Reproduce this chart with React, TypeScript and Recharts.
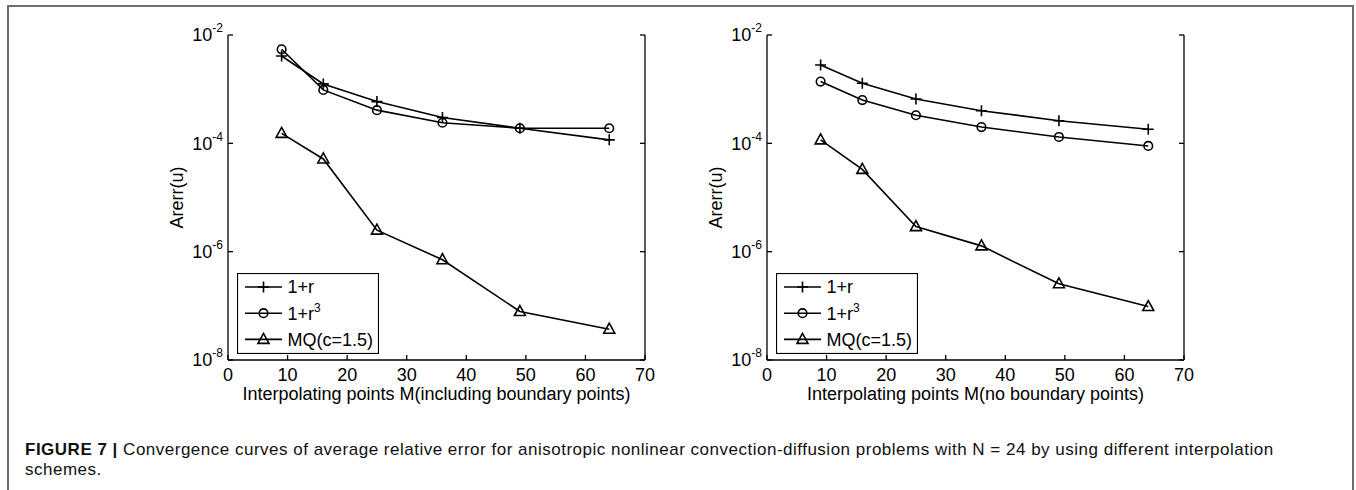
import { Legend, Line, LineChart, XAxis, YAxis } from 'recharts'

const mPoints = [9, 16, 25, 36, 49, 64]
const xTicks = [0, 10, 20, 30, 40, 50, 60, 70]
const yTicks = [1e-8, 1e-6, 1e-4, 1e-2]
const seriesNames = ['1+r', '1+r^3', 'MQ(c=1.5)']

// left panel: boundary points included
const withBoundaryLinear = [4.1e-3, 1.25e-3, 5.9e-4, 3.0e-4, 1.9e-4, 1.16e-4]
const withBoundaryCubic = [5.45e-3, 9.7e-4, 4.1e-4, 2.4e-4, 1.9e-4, 1.9e-4]
const withBoundaryMQ = [1.53e-4, 5.15e-5, 2.5e-6, 7.1e-7, 7.85e-8, 3.7e-8]

// right panel: no boundary points
const noBoundaryLinear = [2.8e-3, 1.29e-3, 6.6e-4, 4.0e-4, 2.62e-4, 1.82e-4]
const noBoundaryCubic = [1.38e-3, 6.3e-4, 3.3e-4, 2.0e-4, 1.31e-4, 8.95e-5]
const noBoundaryMQ = [1.16e-4, 3.3e-5, 2.9e-6, 1.28e-6, 2.55e-7, 9.7e-8]

const FONT = '"Liberation Sans", Arial, sans-serif'
const keys = ['linear', 'cubic', 'mq']
const markerKinds = ['plus', 'circle', 'triangle']
const AXIS = { stroke: '#000', strokeWidth: 1.3 }

const buildRows = (a: number[], b: number[], c: number[]) =>
  mPoints.map((m, i) => ({ m, linear: a[i], cubic: b[i], mq: c[i] }))

const leftData = buildRows(withBoundaryLinear, withBoundaryCubic, withBoundaryMQ)
const rightData = buildRows(noBoundaryLinear, noBoundaryCubic, noBoundaryMQ)

const Marker = ({ kind, cx, cy }: { kind: string; cx: number; cy: number }) => {
  if (kind === 'plus') {
    return (
      <path
        d={`M${cx - 5.5},${cy}H${cx + 5.5}M${cx},${cy - 5.5}V${cy + 5.5}`}
        stroke='#000'
        strokeWidth={1.6}
        fill='none'
      />
    )
  }
  if (kind === 'circle') {
    return <circle cx={cx} cy={cy} r={4.3} stroke='#000' strokeWidth={1.6} fill='none' />
  }
  return (
    <path
      d={`M${cx},${cy - 6}L${cx + 5.5},${cy + 4}L${cx - 5.5},${cy + 4}Z`}
      stroke='#000'
      strokeWidth={1.6}
      fill='none'
    />
  )
}

const XTick = ({ x, y, payload }: any) => (
  <text x={x} y={y} dy='0.71em' textAnchor='middle' fontSize={18} fontFamily={FONT} fill='#000'>
    {payload.value}
  </text>
)

const YTick = ({ x, y, payload }: any) => {
  const exp = Math.round(Math.log10(payload.value))
  return (
    <text x={x} y={y} textAnchor='end' fontSize={18} fontFamily={FONT} fill='#000'>
      <tspan dy={6.4}>10</tspan>
      <tspan dy={-9} fontSize={12}>
        {exp}
      </tspan>
    </text>
  )
}

const NoTick = () => <g />

const LegendBox = () => (
  <svg width={142} height={81} style={{ display: 'block' }}>
    <rect x={0.5} y={0.5} width={141} height={80} fill='#fff' stroke='#000' strokeWidth={1.2} />
    {seriesNames.map((name, i) => {
      const cy = 14 + i * 26.2
      const [base, sup] = name.split('^')
      return (
        <g key={name}>
          <line x1={8} x2={45} y1={cy} y2={cy} stroke='#000' strokeWidth={1.6} />
          <Marker kind={markerKinds[i]} cx={26.5} cy={cy} />
          <text x={50.5} y={cy + 6.4} fontSize={18} fontFamily={FONT} fill='#000'>
            {base}
            {sup && (
              <tspan dy={-8} fontSize={12}>
                {sup}
              </tspan>
            )}
          </text>
        </g>
      )
    })}
  </svg>
)

const Panel = ({ data, xLabel, left }: { data: any[]; xLabel: string; left: number }) => (
  <div style={{ position: 'absolute', left, top: 0 }}>
    <LineChart width={510} height={420} data={data} margin={{ top: 35, right: 5, bottom: 0, left: 8 }}>
      <XAxis
        xAxisId='b'
        dataKey='m'
        type='number'
        domain={[0, 70]}
        ticks={xTicks}
        height={60}
        tickSize={-5}
        tickMargin={13}
        tick={XTick}
        axisLine={AXIS}
        tickLine={AXIS}
        label={({ viewBox }: any) => (
          <text
            x={viewBox.x + viewBox.width / 2}
            y={viewBox.y + 39.5}
            textAnchor='middle'
            fontSize={18}
            fontFamily={FONT}
            fill='#000'
          >
            {xLabel}
          </text>
        )}
      />
      <XAxis
        xAxisId='t'
        orientation='top'
        dataKey='m'
        type='number'
        domain={[0, 70]}
        ticks={xTicks}
        height={0}
        tickSize={-5}
        tick={NoTick}
        axisLine={AXIS}
        tickLine={AXIS}
      />
      <YAxis
        yAxisId='l'
        type='number'
        scale='log'
        domain={[1e-8, 1e-2]}
        allowDataOverflow
        ticks={yTicks}
        width={70}
        tickSize={-5}
        tickMargin={10}
        tick={YTick}
        axisLine={AXIS}
        tickLine={AXIS}
        label={({ viewBox }: any) => {
          const cx = viewBox.x + viewBox.width - 51
          const cy = viewBox.y + viewBox.height / 2
          return (
            <text
              x={cx}
              y={cy}
              dy={6.4}
              transform={`rotate(-90 ${cx} ${cy})`}
              textAnchor='middle'
              fontSize={18}
              fontFamily={FONT}
              fill='#000'
            >
              Arerr(u)
            </text>
          )
        }}
      />
      <YAxis
        yAxisId='r'
        orientation='right'
        type='number'
        scale='log'
        domain={[1e-8, 1e-2]}
        allowDataOverflow
        ticks={yTicks}
        width={10}
        tickSize={-5}
        tick={NoTick}
        axisLine={AXIS}
        tickLine={AXIS}
      />
      {keys.map((k, i) => (
        <Line
          key={k}
          xAxisId='b'
          yAxisId='l'
          type='linear'
          dataKey={k}
          name={seriesNames[i]}
          stroke='#000'
          strokeWidth={1.6}
          isAnimationActive={false}
          dot={(p: any) => <Marker key={`${k}-${p.index}`} kind={markerKinds[i]} cx={p.cx} cy={p.cy} />}
          activeDot={false}
        />
      ))}
      <Legend
        layout='horizontal'
        verticalAlign='middle'
        align='center'
        content={LegendBox}
        wrapperStyle={{ left: 87, top: 273, width: 142, height: 81 }}
      />
    </LineChart>
  </div>
)

export default function App() {
  return (
    <div style={{ position: 'relative', width: 1356, height: 490, fontFamily: FONT, overflow: 'hidden' }}>
      <style>{'body{margin:0}'}</style>
      <div
        style={{
          position: 'absolute',
          left: 7,
          top: 5,
          width: 1343,
          height: 500,
          borderTop: '2px solid #6e6e6e',
          borderLeft: '2px solid #6e6e6e',
          borderRight: '2px solid #6e6e6e',
        }}
      />
      <Panel data={leftData} xLabel='Interpolating points M(including boundary points)' left={150} />
      <Panel data={rightData} xLabel='Interpolating points M(no boundary points)' left={689} />
      <div
        style={{
          position: 'absolute',
          left: 25,
          top: 440,
          fontSize: 17,
          lineHeight: '20px',
          letterSpacing: 0.5,
          color: '#111',
          whiteSpace: 'nowrap',
        }}
      >
        <b>FIGURE 7 |</b> Convergence curves of average relative error for anisotropic nonlinear convection-diffusion
        problems with N = 24 by using different interpolation
        <br />
        schemes.
      </div>
    </div>
  )
}
